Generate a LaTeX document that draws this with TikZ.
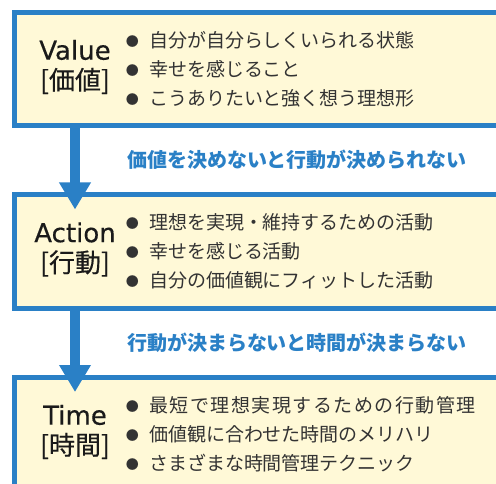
\documentclass[tikz,border=0pt]{standalone}
\usepackage{fontspec}
\setmainfont{DejaVu Sans}
\newfontfamily\jfont{Noto Sans CJK JP}
\newfontfamily\headfont[FakeBold=0.4]{DejaVu Sans}
\newfontfamily\jhead[FakeBold=0.4]{Noto Sans CJK JP}
\usetikzlibrary{calc,positioning,arrows.meta}

\definecolor{frameblue}{HTML}{2A80C6}
\definecolor{boxfill}{HTML}{FFF9D7}
\definecolor{itemgray}{HTML}{333333}
\definecolor{headblack}{HTML}{1A1A1A}

\newcommand{\bul}{\makebox[21pt][l]{\hspace*{-2pt}\raisebox{0.8pt}{\fontsize{13}{13}\selectfont ●}}}

\begin{document}
\begin{tikzpicture}[x=1pt,y=-1pt,every node/.style={inner sep=0pt,outer sep=0pt}]
\tikzstyle{stage}=[draw=frameblue,line width=5pt,fill=boxfill,minimum width=500pt,minimum height=113pt]
\tikzstyle{head}=[align=center,text=headblack,font=\headfont\fontsize{26}{30}\selectfont]
\tikzstyle{items}=[anchor=west,align=left,text=itemgray,font=\jfont\fontsize{19}{29}\selectfont]
\tikzstyle{flow}=[draw=frameblue,line width=10pt,-{Triangle[width=30pt,length=27pt]}]
\tikzstyle{cue}=[text=frameblue,font=\jfont\bfseries\fontsize{20}{24}\selectfont]

\useasboundingbox (0,0) rectangle (496,484);
\clip (0,0) rectangle (496,484);

% three stages
\node (value) [stage,anchor=north west] at (14.5,12.5) {};
\node (action) [stage,below=69.5pt of value] {};
\node (time) [stage,below=69.5pt of action] {};

\node (valuehead) [head] at ([xshift=60.5pt,yshift=2pt]value.west) {Value\\{\jhead[価値]}};
\node (actionhead) [head] at ([xshift=60.5pt,yshift=2pt]action.west) {Action\\{\jhead[行動]}};
\node (timehead) [head] at ([xshift=60.5pt,yshift=2pt]time.west) {Time\\{\jhead[時間]}};

\node (valueitems) [items] at ([xshift=113.5pt]value.west)
   {\bul 自分が自分らしくいられる状態\\ \bul 幸せを感じること\\ \bul こうありたいと強く想う理想形};
\node (actionitems) [items] at ([xshift=113.5pt]action.west)
   {\bul 理想を実現・維持するための活動\\ \bul 幸せを感じる活動\\ \bul 自分の価値観にフィットした活動};
\node (timeitems) [items] at ([xshift=113.5pt]time.west)
   {\bul {\addfontfeature{LetterSpace=8}最短で理想実現するための行動管理}\\ \bul 価値観に合わせた時間のメリハリ\\ \bul さまざまな時間管理テクニック};

% arrows between stages
\draw [flow] (value.south -| valuehead) -- ([yshift=-14.5pt]action.north -| valuehead);
\draw [flow] (action.south -| actionhead) -- ([yshift=-14.5pt]time.north -| actionhead);

\coordinate (gap1) at ($(value.south -| valuehead)!0.5!(action.north -| valuehead)$);
\coordinate (gap2) at ($(action.south -| actionhead)!0.5!(time.north -| actionhead)$);
\node (cue1) [cue,right=52pt of gap1] {価値を決めないと行動が決められない};
\node (cue2) [cue,right=52pt of gap2] {行動が決まらないと時間が決まらない};

\end{tikzpicture}
\end{document}
